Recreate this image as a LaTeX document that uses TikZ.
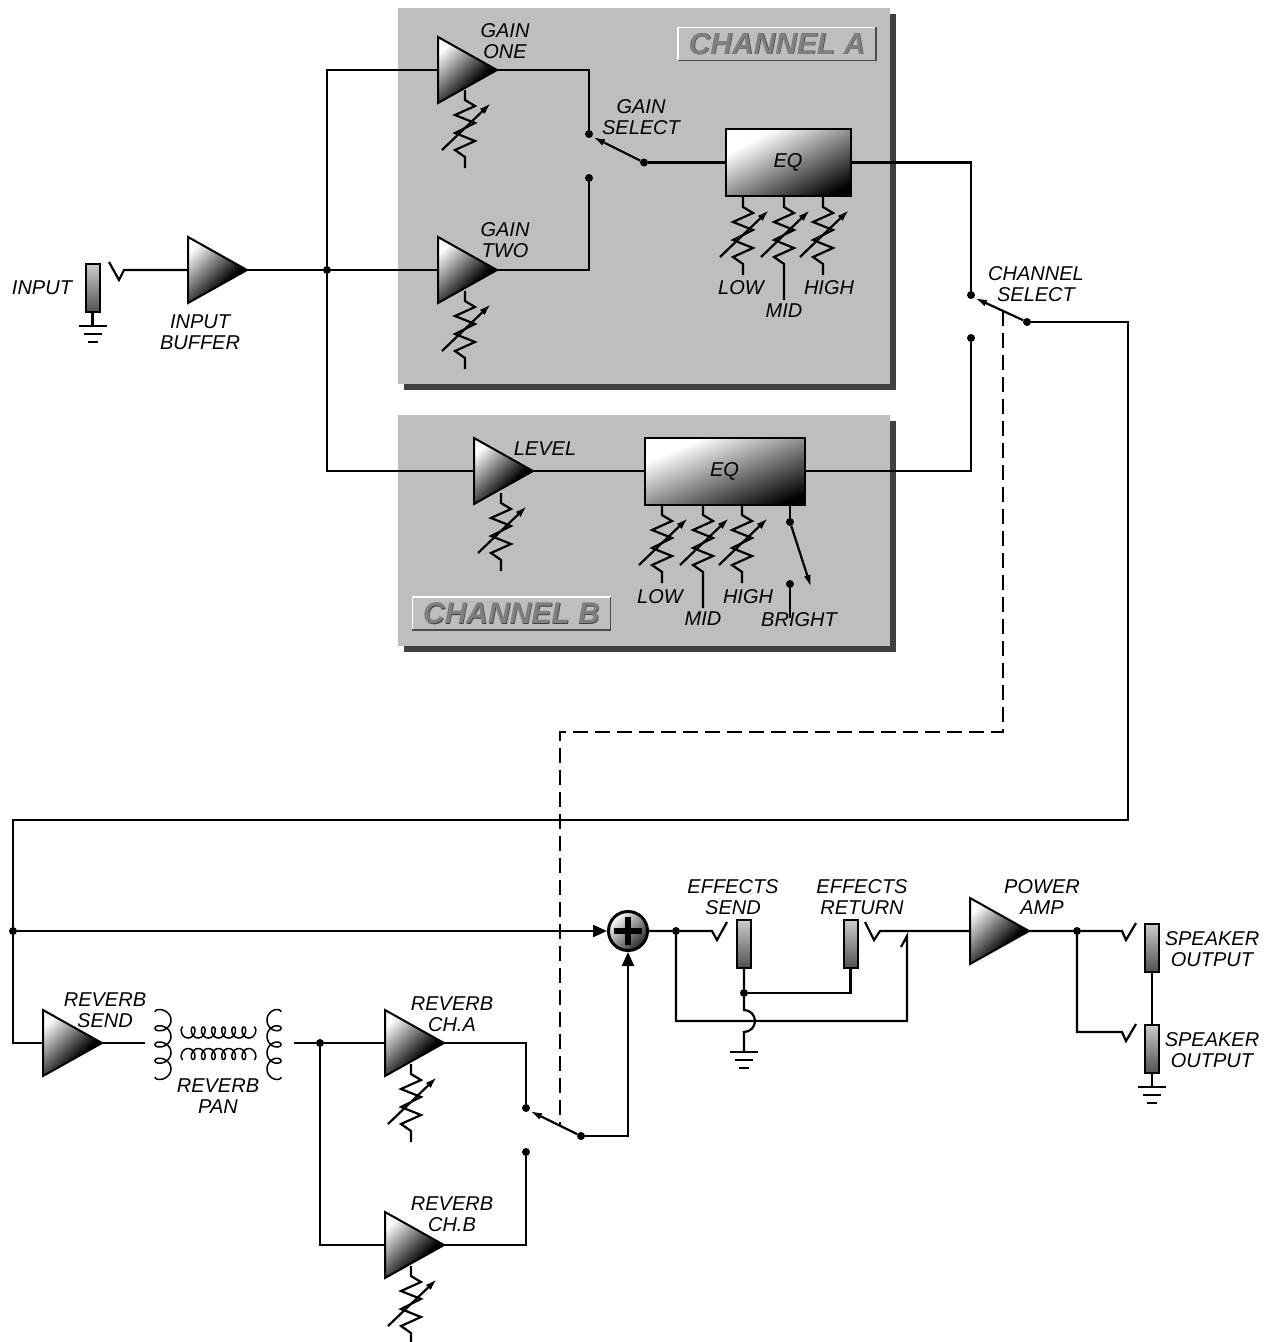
\documentclass[tikz,border=0pt]{standalone}
\usepackage{fontspec}
\setmainfont{Liberation Sans}
\usetikzlibrary{shapes.geometric,arrows.meta}
\definecolor{panelgray}{HTML}{BEBEBE}
\definecolor{shadowgray}{HTML}{404040}
\definecolor{titlegray}{HTML}{7F7F7F}
\pgfdeclareverticalshading{ampshade}{100bp}{color(0bp)=(black); color(38bp)=(black); color(76bp)=(white); color(100bp)=(white)}
\pgfdeclareverticalshading{eqshade}{100bp}{color(0bp)=(black); color(22bp)=(black); color(71bp)=(white); color(100bp)=(white)}
\newcommand{\titletext}[1]{\rlap{\kern.6pt\raisebox{-.6pt}{\textcolor{black!75}{#1}}}#1}
\begin{document}
\begin{tikzpicture}[
		x=1pt, y=-1pt,
		% Stili dei nodi
		panel style/.style={fill=panelgray, inner sep=0pt, anchor=north west},
		shadow style/.style={fill=shadowgray, inner sep=0pt, anchor=north west},
		title style/.style={fill=panelgray, inner sep=0pt, minimum width=198pt, minimum height=33pt, text=titlegray, font=\bfseries\itshape\fontsize{30}{32}\selectfont},
		label style/.style={inner sep=0pt, align=center, font=\itshape\fontsize{20}{21.5}\selectfont},
		amp style/.style={isosceles triangle, isosceles triangle apex angle=60, isosceles triangle stretches, minimum width=66pt, minimum height=59pt, inner sep=0pt, outer sep=0pt, anchor=apex, draw, line width=2pt, shading=ampshade, shading angle=45},
		eq style/.style={rectangle, draw, line width=2pt, inner sep=0pt, shading=eqshade, font=\itshape\fontsize{20}{22}\selectfont},
		jack style/.style={rectangle, draw, line width=2pt, inner sep=0pt, outer sep=0pt, minimum width=14pt, minimum height=48pt, top color=black!20, bottom color=black!68},
		dot style/.style={circle, fill=black, inner sep=0pt, minimum size=8pt},
		sum style/.style={circle, draw, line width=3pt, inner sep=0pt, minimum size=39pt, top color=white, bottom color=black!85, shading angle=45,
			path picture={\draw[line width=6pt] (path picture bounding box.center) +(-14pt,0) -- +(14pt,0) +(0,-14pt) -- +(0,14pt);}},
		% Stili delle linee
		edge style/.style={line width=2.2pt, color=black},
		dash style/.style={line width=2.2pt, dash pattern=on 15pt off 7pt},
		lever style/.style={line width=2.2pt, -{Latex[length=12pt,width=7pt]}},
		feed style/.style={line width=2.2pt, -{Triangle[length=14pt,width=12pt]}},
		coil style/.style={line width=1.5pt},
		% Potenziometro e massa
		pics/vpot/.style={code={
			\draw[edge style] (0,0) -- (0,10) -- (10,16) -- (-10,25) -- (10,33) -- (-10,43) -- (10,51) -- (-10,60) -- (0,67) -- (0,#1);
			\draw[lever style] (-23,60) -- (26,13);
		}},
		pics/gnd/.style={code={
			\draw[edge style] (-14,0) -- (14,0) (-9,8) -- (9,8) (-5,16) -- (5,16);
		}}
	]
	\useasboundingbox (0,0) rectangle (1271,1342);

	% =================================
	% PANNELLI
	% =================================
	\node[shadow style, minimum width=492pt, minimum height=376pt] (shadowa) at (404,14) {};
	\node[panel style, minimum width=492pt, minimum height=376pt] (panela) at (398,8) {};
	\node[shadow style, minimum width=492pt, minimum height=231pt] (shadowb) at (404,421) {};
	\node[panel style, minimum width=492pt, minimum height=231pt] (panelb) at (398,415) {};

	\node[title style] (titlea) at (777,44) {\titletext{CHANNEL A}};
	\node[title style] (titleb) at (511.5,613.5) {\titletext{CHANNEL B}};
	\draw[white, line width=1.5pt] (titlea.south west) |- (titlea.north east);
	\draw[black!70, line width=1.5pt] (titlea.south west) -| (titlea.north east);
	\draw[white, line width=1.5pt] (titleb.south west) |- (titleb.north east);
	\draw[black!70, line width=1.5pt] (titleb.south west) -| (titleb.north east);

	% =================================
	% INGRESSO E CANALE A
	% =================================
	\node[jack style] (injack) at (92.5,288) {};
	\node[amp style] (buffer) at (247,270) {};
	\node[dot style] (split) at (327,270) {};
	\node[amp style] (gainone) at (497,70) {};
	\node[amp style] (gaintwo) at (497,270) {};
	\node[dot style] (gainup) at (589,134) {};
	\node[dot style] (gaindown) at (589,178) {};
	\node[dot style] (gaincom) at (644,162.5) {};
	\node[eq style, shading angle=28, minimum width=125pt, minimum height=67pt] (eqa) at (788,162.5) {EQ};

	\coordinate (intip) at (124,270);
	\draw[edge style] (buffer.lower side) -- (intip) -- (119,280) -- (109,262);
	\draw[edge style] (injack.south) -- (92.5,326) pic {gnd};
	\draw[edge style] (buffer.apex) -- (split) -- (gaintwo.lower side);
	\draw[edge style] (gainone.lower side) -| (split);
	\draw[edge style] (gainone.apex) -| (gainup);
	\draw[edge style] (gaintwo.apex) -| (gaindown);
	\draw[lever style] (gaincom) -- (593,137);
	\draw[edge style] (gaincom) -- (eqa.west);

	\pic at (465,90) {vpot=78};
	\pic at (465,291) {vpot=78};
	\pic at (743,197) {vpot=78};
	\pic at (784,197) {vpot=103};
	\pic at (823,197) {vpot=78};

	\node[label style] (lgainone) at (505,41) {GAIN\\ONE};
	\node[label style] (lgaintwo) at (505,240) {GAIN\\TWO};
	\node[label style] (lgainsel) at (641,117) {GAIN\\SELECT};
	\node[label style] (linput) at (42,288) {INPUT};
	\node[label style] (lbuffer) at (200,332) {INPUT\\BUFFER};
	\node[label style] (llowa) at (741,288) {LOW};
	\node[label style] (lmida) at (784,311) {MID};
	\node[label style] (lhigha) at (829,288) {HIGH};

	% =================================
	% CANALE B
	% =================================
	\node[amp style] (level) at (533,471) {};
	\node[eq style, shading angle=23, minimum width=160pt, minimum height=67pt] (eqb) at (724.5,471) {EQ};
	\node[dot style] (brighton) at (790,522) {};
	\node[dot style] (brightoff) at (790,584) {};
	\coordinate (brightend) at (790,618);

	\draw[edge style] (split) |- (level.lower side);
	\draw[edge style] (level.apex) -- (eqb.west);
	\draw[edge style] (790,505) -- (brighton);
	\draw[lever style] (brighton) -- (811,587);
	\draw[edge style] (brightoff) -- (brightend);

	\pic at (501,493) {vpot=78};
	\pic at (662,505) {vpot=78};
	\pic at (703,505) {vpot=103};
	\pic at (742,505) {vpot=78};

	\node[label style] (llevel) at (545,449) {LEVEL};
	\node[label style] (llowb) at (660,597) {LOW};
	\node[label style] (lmidb) at (703,619) {MID};
	\node[label style] (lhighb) at (748,597) {HIGH};
	\node[label style] (lbright) at (799,620) {BRIGHT};

	% =================================
	% SELEZIONE CANALE
	% =================================
	\node[dot style] (chup) at (971,295) {};
	\node[dot style] (chdown) at (971,338) {};
	\node[dot style] (chcom) at (1027,322) {};
	\coordinate (chlever) at (1003,311);
	\coordinate (chbend) at (560,732);
	\coordinate (revlever) at (560,1125);

	\draw[edge style] (eqa.east) -| (chup);
	\draw[edge style] (eqb.east) -| (chdown);
	\draw[lever style] (chcom) -- (975,298);
	\draw[dash style] (chlever) |- (chbend) -- (revlever);

	\node[label style] (lchsel) at (1036,284) {CHANNEL\\SELECT};

	% =================================
	% RIVERBERO
	% =================================
	\node[dot style] (drytap) at (13,931) {};
	\node[amp style] (revsend) at (102,1043) {};
	\node[dot style] (revsplit) at (320,1043) {};
	\node[amp style] (revcha) at (444,1043) {};
	\node[amp style] (revchb) at (444,1245) {};
	\node[dot style] (revup) at (526,1108) {};
	\node[dot style] (revdown) at (526,1152) {};
	\node[dot style] (revcom) at (581,1136) {};
	\node[sum style] (sum) at (628,931) {};
	\coordinate (coilin) at (145,1043);
	\coordinate (coilout) at (294,1043);
	\coordinate (busright) at (1128,820);

	\draw[edge style] (chcom) -| (busright) -| (drytap);
	\draw[edge style] (drytap) |- (revsend.lower side);
	\draw[feed style] (drytap) -- (sum.west);
	\draw[edge style] (revsend.apex) -- (coilin);
	\draw[edge style] (coilout) -- (revsplit) -- (revcha.lower side);
	\draw[edge style] (revsplit) |- (revchb.lower side);
	\draw[edge style] (revcha.apex) -| (revup);
	\draw[edge style] (revchb.apex) -| (revdown);
	\draw[lever style] (revcom) -- (530,1111);
	\draw[feed style] (revcom) -| (sum.south);

	% Bobine del riverbero
	\draw[coil style] plot[domain=0:1440, samples=145] ({163-8*cos(\x)}, {1012+0.04514*\x-6*sin(\x)});
	\draw[coil style] plot[domain=0:1440, samples=145] ({274+7*cos(\x)}, {1012+0.04514*\x-6*sin(\x)});
	\draw[coil style] plot[domain=0:2520, samples=253] ({183+0.02817*\x-4*sin(\x)}, {1032.5-5.5*cos(\x)});
	\draw[coil style] plot[domain=0:2520, samples=253] ({183+0.02817*\x-4*sin(\x)}, {1054+5.5*cos(\x)});

	\pic at (411,1064) {vpot=78};
	\pic at (411,1266) {vpot=78};

	\node[label style] (lrevsend) at (105,1010) {REVERB\\SEND};
	\node[label style] (lrevpan) at (218,1096) {REVERB\\PAN};
	\node[label style] (lrevcha) at (452,1014) {REVERB\\CH.A};
	\node[label style] (lrevchb) at (452,1214) {REVERB\\CH.B};

	% =================================
	% EFFETTI E FINALE
	% =================================
	\node[dot style] (fxtap) at (676,931) {};
	\node[jack style] (fxsend) at (744,944) {};
	\node[jack style] (fxreturn) at (850.5,944) {};
	\node[dot style] (fxjoin) at (744,993) {};
	\node[amp style] (power) at (1029,931) {};
	\node[dot style] (powertap) at (1077,931) {};
	\node[jack style] (spkone) at (1152,947.5) {};
	\node[jack style] (spktwo) at (1152,1048.5) {};
	\coordinate (sendtip) at (712,931);
	\coordinate (returntip) at (880,931);
	\coordinate (spkonetip) at (1122,931);
	\coordinate (spktwotip) at (1122,1032);
	\coordinate (loopend) at (907,936);

	\draw[edge style] (sum.east) -- (fxtap) -- (sendtip) -- (717,940) -- (727,922);
	\draw[edge style] (fxsend.south) -- (fxjoin) -- (744,1010) arc[start angle=-90, end angle=90, radius=11] -- (744,1052) pic {gnd};
	\draw[edge style] (fxjoin) -| (fxreturn.south);
	\draw[edge style] (fxtap) |- (907,1021) -- (loopend) -- (901,947);
	\draw[edge style] (power.lower side) -- (returntip) -- (874,940) -- (865,922);
	\draw[edge style] (power.apex) -- (powertap) -- (spkonetip) -- (1126,940) -- (1136,923);
	\draw[edge style] (powertap) |- (spktwotip) -- (1126,1041) -- (1136,1024);
	\draw[edge style] (spkone.south) -- (spktwo.north);
	\draw[edge style] (spktwo.south) -- (1152,1087) pic {gnd};

	\node[label style] (lfxsend) at (733,897) {EFFECTS\\SEND};
	\node[label style] (lfxreturn) at (862,897) {EFFECTS\\RETURN};
	\node[label style] (lpower) at (1042,897) {POWER\\AMP};
	\node[label style] (lspkone) at (1212,949) {SPEAKER\\OUTPUT};
	\node[label style] (lspktwo) at (1212,1050) {SPEAKER\\OUTPUT};

\end{tikzpicture}
\end{document}
